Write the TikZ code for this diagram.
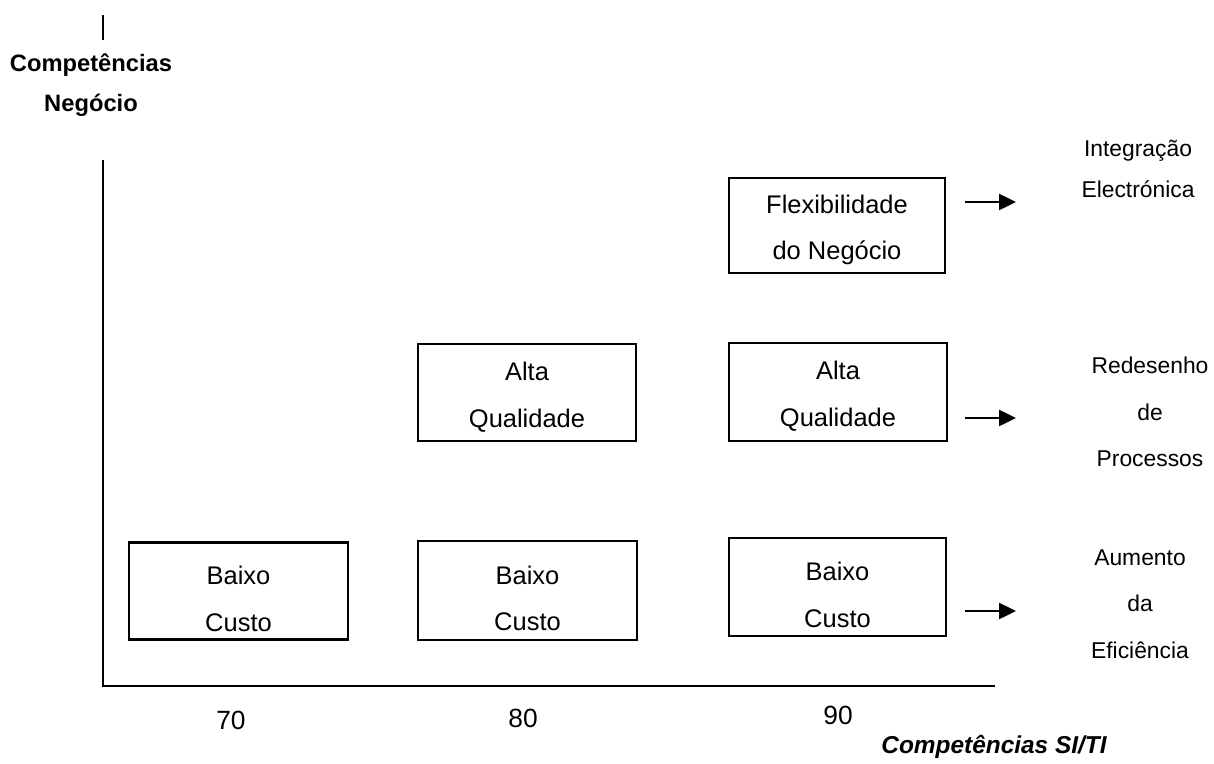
\documentclass[tikz,border=0pt]{standalone}
\usepackage{fontspec}
\setmainfont{Liberation Sans}
\usetikzlibrary{arrows.meta}
\begin{document}
\begin{tikzpicture}[x=0.02cm,y=-0.02cm,
  boxstyle/.style={draw,line width=1.2pt,rectangle,inner sep=0pt},
  boxtext/.style={inner sep=0pt,align=center,font=\fontsize{14.5}{26.6}\selectfont},
  axisline/.style={line width=1.2pt},
  arrowline/.style={line width=1.4pt,-{Triangle[length=0.34cm,width=0.32cm]}},
  rlabel/.style={inner sep=0pt,align=center,font=\fontsize{13}{26.6}\selectfont},
  numlabel/.style={inner sep=0pt,font=\fontsize{15}{18}\selectfont},
  ylabel/.style={inner sep=0pt,align=center,font=\bfseries\fontsize{13.5}{22.7}\selectfont},
  xlabel/.style={inner sep=0pt,font=\bfseries\itshape\fontsize{13.9}{16}\selectfont}]
\useasboundingbox (0,0) rectangle (1214,764);
% axes
\coordinate (ticktop) at (103,15);
\coordinate (tickbot) at (103,40);
\coordinate (ytop) at (103,160);
\coordinate (origin) at (103,686);
\coordinate (xend) at (995,686);
\draw[axisline] (ticktop) -- (tickbot);
\draw[axisline] (ytop) -- (origin) -- (xend);
\node[ylabel] (ylab) at (91,85) {Competências\\Negócio};
\node[xlabel] (xlab) at (994,747) {Competências SI/TI};
% numbers
\node[numlabel] (n70) at (231,720) {70};
\node[numlabel] (n80) at (523,718) {80};
\node[numlabel] (n90) at (838,715) {90};
% boxes
\node[boxstyle,minimum width=4.38cm,minimum height=1.94cm,
  label={[boxtext,yshift=-0.16cm]center:{Baixo\\Custo}}] (b1) at (238.5,591) {};
\node[boxstyle,minimum width=4.38cm,minimum height=1.98cm,
  label={[boxtext,yshift=-0.16cm]center:{Baixo\\Custo}}] (b2) at (527.5,590.5) {};
\node[boxstyle,minimum width=4.34cm,minimum height=1.96cm,
  label={[boxtext,yshift=-0.16cm]center:{Baixo\\Custo}}] (b3) at (837.5,587) {};
\node[boxstyle,minimum width=4.36cm,minimum height=1.94cm,
  label={[boxtext,yshift=-0.09cm]center:{Alta\\Qualidade}}] (a2) at (527,392.5) {};
\node[boxstyle,minimum width=4.36cm,minimum height=1.96cm,
  label={[boxtext,yshift=-0.09cm]center:{Alta\\Qualidade}}] (a3) at (838,392) {};
\node[boxstyle,minimum width=4.32cm,minimum height=1.90cm,
  label={[boxtext,yshift=-0.09cm]center:{Flexibilidade\\do Negócio}}] (f3) at (837,225.5) {};
% arrows
\coordinate (s1) at (965,202); \coordinate (e1) at (1016,202);
\coordinate (s2) at (965,418); \coordinate (e2) at (1016,418);
\coordinate (s3) at (965,611); \coordinate (e3) at (1016,611);
\draw[arrowline] (s1) -- (e1);
\draw[arrowline] (s2) -- (e2);
\draw[arrowline] (s3) -- (e3);
% right labels
\node[rlabel,font=\fontsize{13}{23.8}\selectfont] (r1) at (1138,169) {Integração\\Electrónica};
\node[rlabel] (r2) at (1150,412) {Redesenho\\de\\Processos};
\node[rlabel] (r3) at (1140,604) {Aumento\\da\\Eficiência};
\end{tikzpicture}
\end{document}
